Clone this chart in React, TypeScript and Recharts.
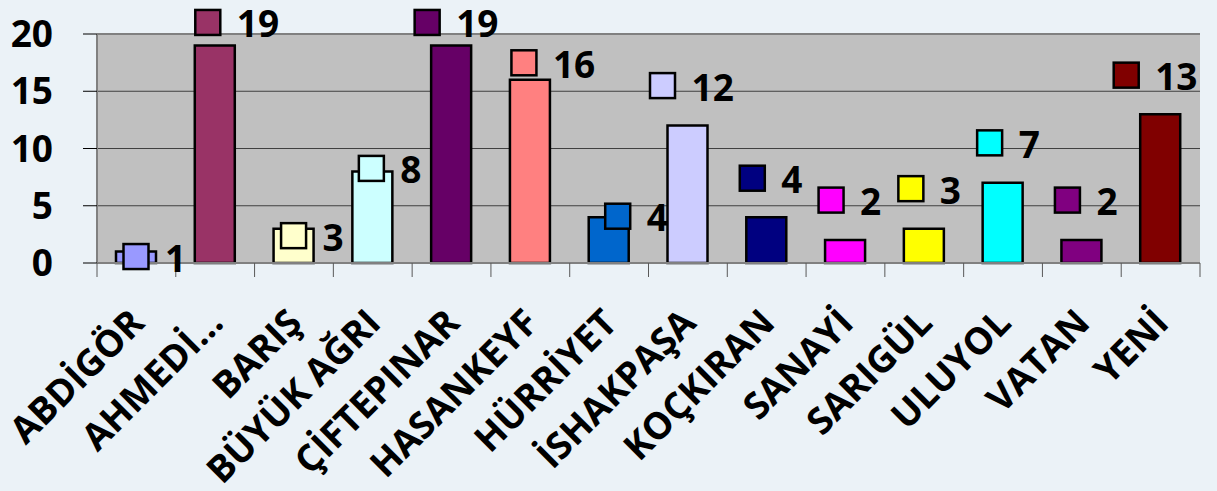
import React from 'react';
import { BarChart, Bar, XAxis, YAxis, CartesianGrid, Cell, LabelList, ReferenceLine } from 'recharts';

const categories = ['ABDİGÖR', 'AHMEDİ…', 'BARIŞ', 'BÜYÜK AĞRI', 'ÇİFTEPINAR', 'HASANKEYF', 'HÜRRİYET', 'İSHAKPAŞA', 'KOÇKIRAN', 'SANAYİ', 'SARIGÜL', 'ULUYOL', 'VATAN', 'YENİ'];
const values = [1, 19, 3, 8, 19, 16, 4, 12, 4, 2, 3, 7, 2, 13];
const colors = ['#9999FF', '#993366', '#FFFFCC', '#CCFFFF', '#660066', '#FF8080', '#0066CC', '#CCCCFF', '#000080', '#FF00FF', '#FFFF00', '#00FFFF', '#800080', '#800000'];
const yTicks = [0, 5, 10, 15, 20];

// label nudges (px) relative to bar top-centre, as placed in the original
const labelDx = [0, -7, 0, -1, -24, -6, 9, -25, -14, -14, -13, -13, -14, -34];
const labelDy = [5, -23, 7, -3, -23, -17, -1, -40, -39, -40, -40, -40, -40, -39];

const W = 1217;
const H = 491;
const M = { top: 34, right: 17, left: 0, bottom: 0 };
const Y_W = 97;
const X_H = 228;
const PLOT_W = W - M.left - M.right - Y_W;
const FONT = '"Open Sans", "Noto Sans", sans-serif';

const data = categories.map((name, i) => ({ name, value: values[i] }));

const XTick = (props: any) => {
  const { x, y, payload, index } = props;
  const band = PLOT_W / categories.length;
  const tx = x + 10;
  const ty = y + 62;
  return (
    <g>
      <line x1={x - band / 2} x2={x - band / 2} y1={y} y2={y + 14} stroke="#595959" strokeWidth={1} />
      {index === categories.length - 1 && (
        <line x1={x + band / 2} x2={x + band / 2} y1={y} y2={y + 14} stroke="#595959" strokeWidth={1} />
      )}
      <text
        x={tx}
        y={ty}
        transform={`rotate(-45 ${tx} ${ty})`}
        textAnchor="end"
        fontFamily={FONT}
        fontWeight={700}
        fontSize={37}
        fill="#000"
      >
        {payload.value}
      </text>
    </g>
  );
};

const ValueLabel = (props: any) => {
  const { x, y, width, value, index } = props;
  const cx = Number(x) + Number(width) / 2 + labelDx[index];
  const cy = Number(y) + labelDy[index];
  return (
    <g>
      <rect x={cx - 12.5} y={cy - 12.5} width={25} height={25} fill={colors[index]} stroke="#000" strokeWidth={2.5} />
      <text x={cx + 29} y={cy + 15} fontFamily={FONT} fontWeight={700} fontSize={37} fill="#000">
        {value}
      </text>
    </g>
  );
};

export default function App() {
  return (
    <div style={{ position: 'absolute', left: 0, top: 0, width: W, height: H, background: '#EBF2F7' }}>
      <BarChart width={W} height={H} data={data} margin={M} barSize={40}>
        <CartesianGrid vertical={false} fill="#C0C0C0" stroke="#404040" strokeWidth={1} />
        <XAxis
          dataKey="name"
          interval={0}
          height={X_H}
          tickSize={0}
          tickMargin={0}
          tickLine={false}
          axisLine={{ stroke: '#808080', strokeWidth: 2 }}
          tick={<XTick />}
        />
        <YAxis
          width={Y_W}
          domain={[0, 20]}
          ticks={yTicks}
          interval={0}
          tickSize={14}
          tickMargin={30}
          tickLine={{ stroke: '#000', strokeWidth: 1 }}
          axisLine={{ stroke: '#808080', strokeWidth: 2 }}
          tick={{ fontFamily: FONT, fontWeight: 700, fontSize: 37, fill: '#000' }}
        />
        <YAxis
          yAxisId="r"
          orientation="right"
          width={0}
          domain={[0, 20]}
          tick={false}
          tickLine={false}
          axisLine={{ stroke: '#808080', strokeWidth: 2 }}
        />
        <ReferenceLine y={20} stroke="#808080" strokeWidth={2} />
        <Bar dataKey="value" isAnimationActive={false}>
          {data.map((d, i) => (
            <Cell key={d.name} fill={colors[i]} stroke="#000" strokeWidth={2.5} />
          ))}
          <LabelList dataKey="value" content={<ValueLabel />} />
        </Bar>
      </BarChart>
    </div>
  );
}
